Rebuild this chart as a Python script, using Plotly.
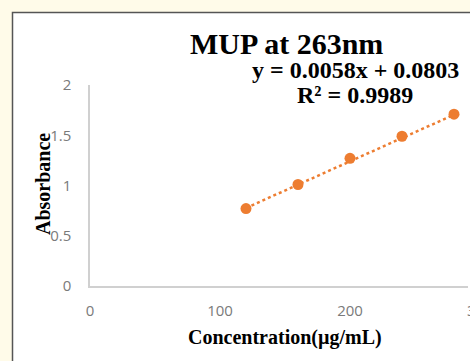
import plotly.graph_objects as go

# Data
concentration = [120, 160, 200, 240, 280]
absorbance = [0.77, 1.01, 1.27, 1.49, 1.71]
slope = 0.0058
intercept = 0.0803
x_ticks = [0, 100, 200]
y_ticks = [0, 0.5, 1, 1.5, 2]

trend_x = [min(concentration), max(concentration)]
trend_y = [slope * v + intercept for v in trend_x]

ORANGE = "#ED7D31"
W, H = 470, 361
L, R, T, B = 90, 2, 85, 75
pw = W - L - R
ph = H - T - B


def px(xpix):
    return (xpix - L) / pw


def py(ypix):
    return (H - B - ypix) / ph


xmax = pw / 1.3

fig = go.Figure()
fig.add_trace(go.Scatter(x=trend_x, y=trend_y, mode="lines",
                         line=dict(color=ORANGE, width=2.5, dash="dot"),
                         showlegend=False, hoverinfo="skip"))
fig.add_trace(go.Scatter(x=concentration, y=absorbance, mode="markers",
                         marker=dict(color=ORANGE, size=11),
                         showlegend=False))

tickfont = dict(family="Open Sans, Liberation Sans, sans-serif", size=15, color="#7a7a7a")
serif = "Liberation Serif, Times New Roman, serif"

fig.update_layout(
    width=W, height=H,
    margin=dict(l=L, r=R, t=T, b=B),
    paper_bgcolor="#FFFBE9",
    plot_bgcolor="rgba(0,0,0,0)",
    xaxis=dict(range=[0, xmax], tickvals=x_ticks, showgrid=False, zeroline=False,
               showline=True, linecolor="#d0d0d0", linewidth=1.5, ticks="",
               tickfont=tickfont, ticklabelstandoff=10),
    yaxis=dict(range=[0, 2], tickvals=y_ticks, showgrid=False, zeroline=False,
               showline=True, linecolor="#d0d0d0", linewidth=1.5, ticks="",
               tickfont=tickfont, ticklabelstandoff=14),
    shapes=[dict(type="rect", xref="paper", yref="paper", layer="below",
                 x0=px(12.5), x1=px(520), y0=py(420), y1=py(12.5),
                 fillcolor="white", line=dict(color="#555555", width=1.5))],
    annotations=[
        dict(text="<b>MUP at 263nm</b>", xref="paper", yref="paper", x=px(286), y=py(43),
             xanchor="center", yanchor="middle", showarrow=False,
             font=dict(family=serif, size=30, color="black")),
        dict(text="<b>y = 0.0058x + 0.0803</b>", xref="paper", yref="paper", x=px(355), y=py(69.5),
             xanchor="center", yanchor="middle", showarrow=False,
             font=dict(family=serif, size=24, color="black")),
        dict(text="<b>R² = 0.9989</b>", xref="paper", yref="paper", x=px(355), y=py(95),
             xanchor="center", yanchor="middle", showarrow=False,
             font=dict(family=serif, size=24, color="black")),
        dict(text="<b>Absorbance</b>", xref="paper", yref="paper", x=px(43), y=py(184),
             xanchor="center", yanchor="middle", showarrow=False, textangle=-90,
             font=dict(family=serif, size=20, color="black")),
        dict(text="<b>Concentration(µg/mL)</b>", xref="paper", yref="paper", x=px(285), y=py(337),
             xanchor="center", yanchor="middle", showarrow=False,
             font=dict(family=serif, size=20, color="black")),
        dict(text="300", xref="paper", yref="paper", x=px(480), y=py(310),
             xanchor="center", yanchor="middle", showarrow=False, font=tickfont),
    ],
)

fig.write_html("out.html", config={"displayModeBar": False},
               post_script="document.body.style.margin='0';document.body.style.overflow='hidden';")
